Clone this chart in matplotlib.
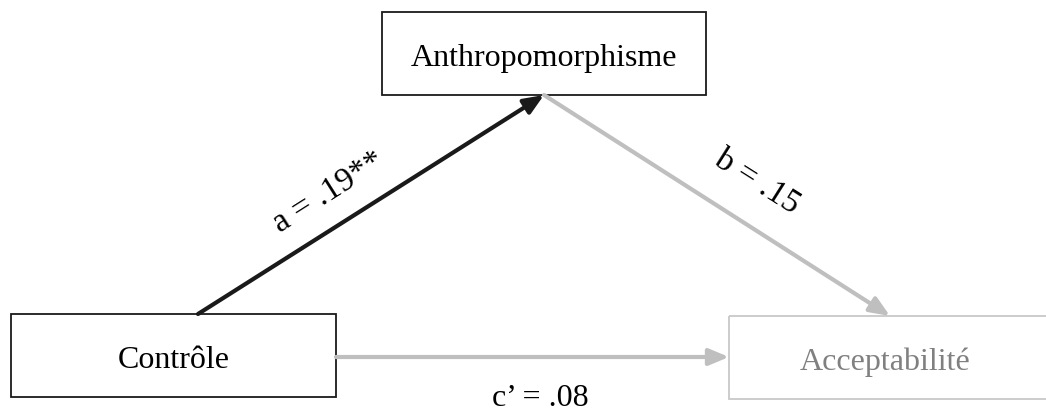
import matplotlib.pyplot as plt
from matplotlib.patches import Rectangle, FancyArrowPatch

# mediation model: X -> M -> Y
nodes = ["Contrôle", "Anthropomorphisme", "Acceptabilité"]
paths = ["a", "b", "c’"]
coefs = [".19**", ".15", ".08"]

W, H = 1046, 412
plt.rcParams["font.family"] = ["Liberation Serif", "DejaVu Serif"]

fig = plt.figure(figsize=(W / 100, H / 100), dpi=100)
ax = fig.add_axes([0, 0, 1, 1])
ax.set_xlim(0, W)
ax.set_ylim(H, 0)
ax.axis("off")

dark = "#1a1a1a"
grey = "#bfbfbf"

# boxes (x0, y0, x1, y1) in pixel coords
boxes = [(11, 314, 336, 397), (382, 12, 706, 95), (729, 316, 1060, 399)]
edge_cols = [dark, dark, "#c8c8c8"]
text_cols = ["black", "black", "#808080"]
for (x0, y0, x1, y1), name, ec, tc in zip(boxes, nodes, edge_cols, text_cols):
    ax.add_patch(Rectangle((x0, y0), x1 - x0, y1 - y0, fill=False,
                           edgecolor=ec, lw=1.3, clip_on=True))
    cx = (x0 + x1) / 2 if name != "Acceptabilité" else 885
    ax.text(cx, (y0 + y1) / 2 + 5, name, ha="center", va="center",
            fontsize=23, color=tc)


def arrow(p0, p1, col):
    ax.add_patch(FancyArrowPatch(p0, p1, arrowstyle="-|>,head_length=12,head_width=5",
                                 color=col, lw=3, shrinkA=0, shrinkB=0,
                                 mutation_scale=1))


arrow((198, 314), (544, 95), dark)
arrow((544, 95), (890, 316), grey)
arrow((336, 357), (729, 357), grey)

ax.text(329, 192, f"{paths[0]} = {coefs[0]}", rotation=32.3,
        ha="center", va="center", fontsize=24, rotation_mode="anchor")
ax.text(757, 182, f"{paths[1]} = {coefs[1]}", rotation=-32.3,
        ha="center", va="center", fontsize=24, rotation_mode="anchor")
ax.text(540, 398, f"{paths[2]} = {coefs[2]}", ha="center", va="center",
        fontsize=23)

fig.savefig("out.png", dpi=100)
